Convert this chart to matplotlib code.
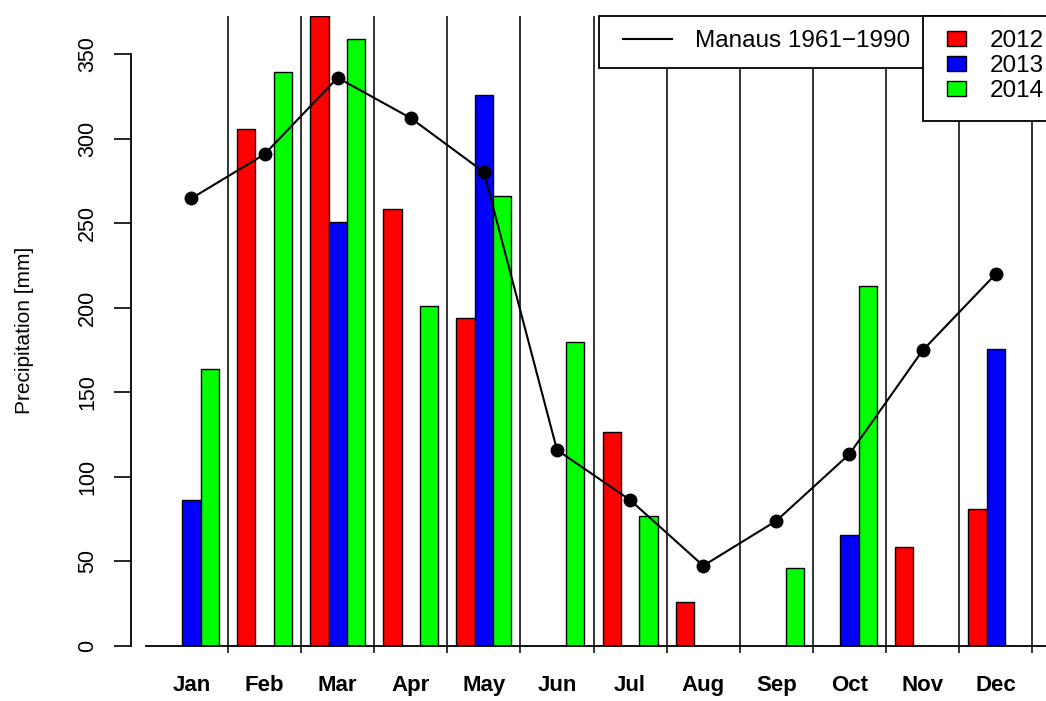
import numpy as np
import matplotlib.pyplot as plt
from matplotlib.lines import Line2D
from matplotlib.patches import Rectangle

plt.rcParams['font.family'] = ['Liberation Sans', 'DejaVu Sans']

# monthly precipitation [mm], NaN where no bar is drawn
months = ["Jan", "Feb", "Mar", "Apr", "May", "Jun",
          "Jul", "Aug", "Sep", "Oct", "Nov", "Dec"]
rain_2012 = [np.nan, 305.4, 372.7, 258.5, 194.0, np.nan,
             126.2, 25.8, np.nan, np.nan, 58.3, 80.8]
rain_2013 = [86.1, np.nan, 250.4, np.nan, 325.6, np.nan,
             np.nan, np.nan, np.nan, 65.2, np.nan, 175.4]
rain_2014 = [163.6, 339.4, 358.9, 200.8, 265.8, 179.4,
             76.6, np.nan, 45.9, 212.7, np.nan, np.nan]
# climatological normal for Manaus
manaus_normal = [264.6, 290.7, 336.0, 312.1, 280.2, 115.7,
                 86.1, 47.2, 73.8, 113.3, 174.6, 219.8]

years = ["2012", "2013", "2014"]
bar_colors = ["red", "blue", "lime"]

W, H = 1046, 701
fig = plt.figure(figsize=(W / 100, H / 100), dpi=100)

# plot region in pixels (runs past the right edge of the image)
left, top, right, bottom = 130.5, 15.7, 1100, 645.5
ax = fig.add_axes([left / W, 1 - bottom / H, (right - left) / W, (bottom - top) / H])

bar_px = 18.28   # one bar slot in pixels
x0_px = 145.7    # pixel where slot 0 starts
xmin = (left - x0_px) / bar_px
xmax = (right - x0_px) / bar_px

# barplot(beside=TRUE) layout: 3 bars + 1 space per month
slot = np.arange(len(months)) * 4
centers = slot + 2.5
bounds = slot + 4.5

bars = []
for j, (vals, col) in enumerate(zip([rain_2012, rain_2013, rain_2014], bar_colors)):
    b = ax.bar(slot + 1 + j, vals, width=1, align='edge', color=col,
               edgecolor='black', linewidth=1.0, zorder=2)
    bars.append(b)

for bx in bounds:
    ax.axvline(bx, color='#333333', lw=1.4, zorder=1)

ax.plot(centers, manaus_normal, color='black', lw=1.5, zorder=4)
ax.plot(centers, manaus_normal, 'o', color='black', ms=9, zorder=5)

ax.set_xlim(xmin, xmax)
ax.set_ylim(0, np.nanmax(rain_2012))

for s in ['top', 'right']:
    ax.spines[s].set_visible(False)
ax.spines['left'].set_bounds(0, 350)
ax.spines['bottom'].set_bounds(0, xmax)
ax.spines['left'].set_linewidth(1.3)
ax.spines['bottom'].set_linewidth(1.3)

ax.set_yticks(np.arange(0, 351, 50))
ax.set_yticklabels([str(v) for v in range(0, 351, 50)], rotation=90, va='center')
ax.tick_params(axis='y', length=12.3, width=1.2, labelsize=15.5, pad=11)

ax.set_xticks(centers)
ax.set_xticklabels(months, fontweight='bold', fontsize=16)
ax.set_xticks(bounds, minor=True)
ax.tick_params(axis='x', which='major', length=0, pad=21)
ax.tick_params(axis='x', which='minor', length=4.7, width=1.4, color='#333333')

ax.set_ylabel("Precipitation [mm]", fontsize=15)
ax.yaxis.set_label_coords(34 / W, 1 - (top + bottom) / 2 / H, transform=fig.transFigure)

# legend boxes, second one overlapping the first
frame1 = Rectangle((599 / W, 1 - 68.3 / H), (1000 - 599) / W, (68.3 - 15.7) / H,
                   transform=fig.transFigure, facecolor='white', edgecolor='black',
                   lw=1.3, zorder=6)
ax.add_artist(frame1)
frame1.set_clip_on(False)

leg1 = ax.legend([Line2D([], [], color='black', lw=1.5)], ["Manaus 1961\u22121990"],
                 loc='upper left', bbox_to_anchor=(623 / W, 1 - 30 / H),
                 bbox_transform=fig.transFigure, frameon=False, borderpad=0,
                 borderaxespad=0, handlelength=2.0, handletextpad=0.95, fontsize=17.5)
leg1.set_zorder(7)
ax.add_artist(leg1)

frame2 = Rectangle((923 / W, 1 - 120.7 / H), (1100 - 923) / W, (120.7 - 15.7) / H,
                   transform=fig.transFigure, facecolor='white', edgecolor='black',
                   lw=1.3, zorder=8)
ax.add_artist(frame2)
frame2.set_clip_on(False)

leg2 = ax.legend(bars, years, loc='upper left', bbox_to_anchor=(947 / W, 1 - 30 / H),
                 bbox_transform=fig.transFigure, frameon=False, borderpad=0,
                 borderaxespad=0, handlelength=0.8, handleheight=0.58,
                 handletextpad=0.95, labelspacing=0.12, fontsize=17.5)
leg2.set_zorder(9)

fig.savefig("out.png", dpi=100)
